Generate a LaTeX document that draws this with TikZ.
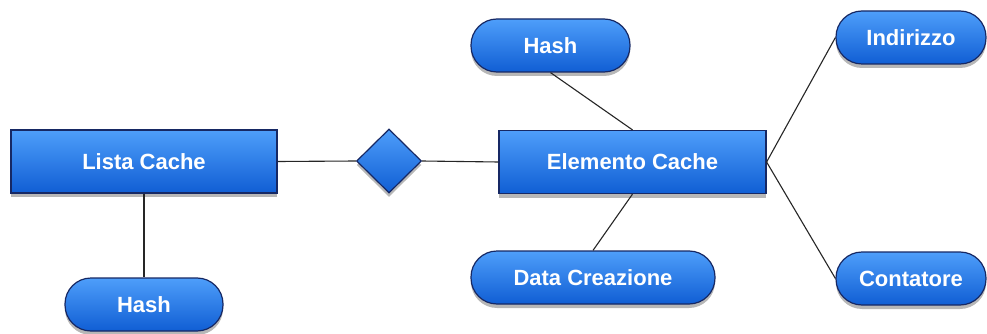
\documentclass[tikz,border=0pt]{standalone}
\usepackage{fontspec}
\setmainfont{Liberation Sans}
\usetikzlibrary{shapes.geometric,shadows}
\definecolor{bluetop}{RGB}{78,158,250}
\definecolor{bluebot}{RGB}{16,94,212}
\definecolor{edgeblue}{RGB}{22,40,100}
\tikzset{
  base/.style={draw=edgeblue, line width=1.2pt, top color=bluetop, bottom color=bluebot,
    text=white, font=\bfseries\fontsize{22}{24}\selectfont, inner sep=0pt,
    drop shadow={shadow xshift=0pt, shadow yshift=-4pt, opacity=0.35, fill=black!80}},
  entity/.style={base, rectangle, minimum width=266pt, minimum height=63pt},
  attr/.style={base, rectangle, rounded corners=26pt, minimum height=53pt},
  rel/.style={base, diamond, minimum width=65pt, minimum height=64pt, aspect=1},
  link/.style={draw=black!85, line width=1.1pt}
}
\begin{document}
\begin{tikzpicture}[x=1pt,y=-1pt]
\fill[white] (0,0) rectangle (987,334);
\useasboundingbox (0,0) rectangle (987,334);
\node[entity] (lista) at (144,161.5) {Lista Cache};
\node[rel] (dia) at (389,161) {};
\node[entity, minimum width=267pt] (elem) at (632.5,162) {Elemento Cache};
\node[attr, minimum width=159pt] (hash1) at (550.5,45.5) {Hash};
\node[attr, minimum width=150pt] (ind) at (911,37.5) {Indirizzo};
\node[attr, minimum width=150pt] (cont) at (911,278.5) {Contatore};
\node[attr, minimum width=158pt] (hash2) at (144,304.5) {Hash};
\node[attr, minimum width=244pt] (data) at (593,277.5) {Data Creazione};
\draw[link] (lista.east) -- (dia.west);
\draw[link] (dia.east) -- (elem.west);
\draw[link] (lista.south) -- (hash2.north);
\draw[link] (elem.north) -- (hash1.south);
\draw[link] (elem.south) -- (data.north);
\draw[link] (elem.east) -- (ind.west);
\draw[link] (elem.east) -- (cont.west);
\end{tikzpicture}
\end{document}
